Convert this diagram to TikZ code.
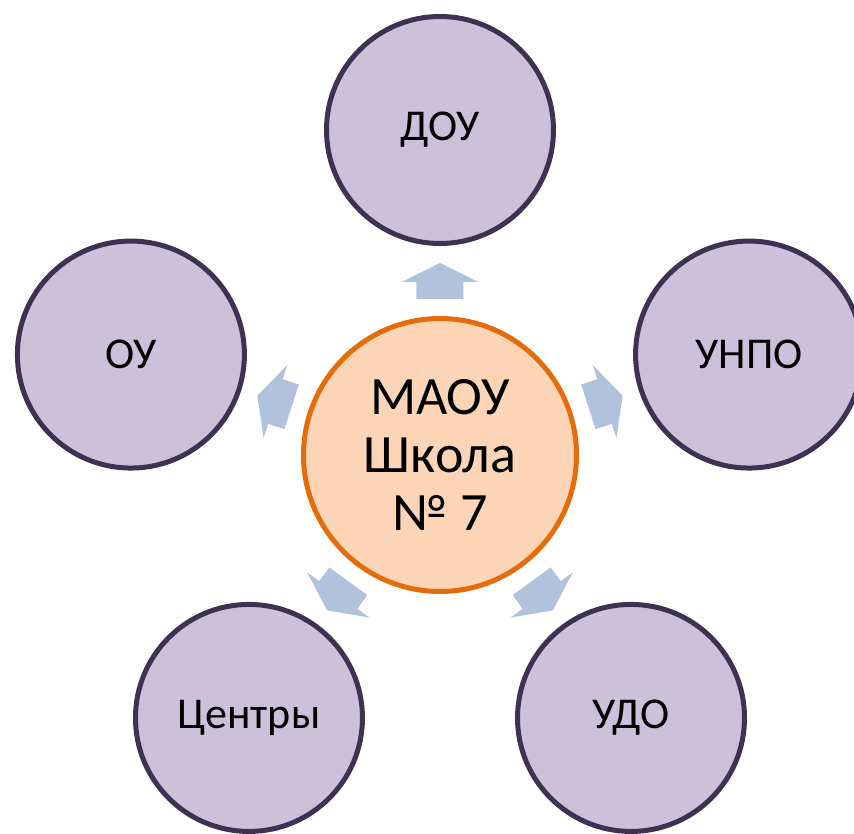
\documentclass[tikz,border=0pt]{standalone}
\usepackage{fontspec}
\setmainfont{Carlito}
\definecolor{outerfill}{HTML}{CCC1DA}
\definecolor{outerdraw}{HTML}{3F3151}
\definecolor{centerfill}{HTML}{FBD5B5}
\definecolor{centerdraw}{HTML}{E46C0A}
\definecolor{arrowfill}{HTML}{B1C2DC}
\begin{document}
\begin{tikzpicture}[x=1pt,y=1pt,
  outercircle/.style={circle, draw=outerdraw, fill=outerfill, line width=5pt, minimum size=227pt, inner sep=0pt, font=\fontsize{44}{50}\selectfont},
  centercircle/.style={circle, draw=centerdraw, fill=centerfill, line width=5pt, minimum size=273pt, inner sep=0pt, align=center, font=\fontsize{54}{58}\selectfont},
  blockarrow/.style={fill=arrowfill}]
\useasboundingbox (-440,-378) rectangle (414,455);
\node[centercircle] (c) at (0,0) {МАОУ\\Школа\\№ 7};
\node[outercircle] (dou) at (90:325) {ДОУ};
\node[outercircle] (unpo) at (18:325) {УНПО};
\node[outercircle] (udo) at (-54:325) {УДО};
\node[outercircle] (centry) at (-126:325) {Центры};
\node[outercircle] (ou) at (162:325) {ОУ};
\foreach \a in {90,18,-54,-126,162}{
  \fill[blockarrow, rotate=\a] (156,-23.5) -- (173,-23.5) -- (173,-38.5) -- (192,0) -- (173,38.5) -- (173,23.5) -- (156,23.5) -- cycle;
}
\end{tikzpicture}
\end{document}
